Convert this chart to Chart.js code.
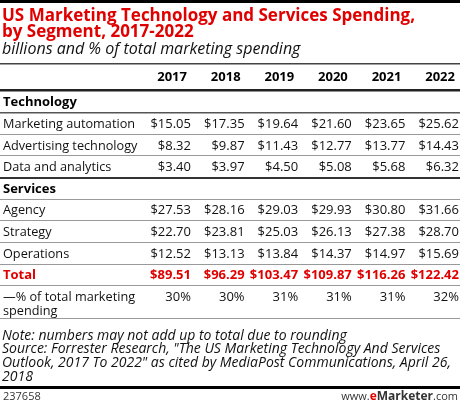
<!DOCTYPE html>
<html><head><meta charset="utf-8">
<script src="https://cdn.jsdelivr.net/npm/chart.js@4.4.0/dist/chart.umd.min.js"></script>
<style>html,body{margin:0;padding:0;background:#fff}#wrap{width:460px;height:403px;position:relative}</style>
</head><body><div id="wrap"><canvas id="c" width="460" height="403"></canvas></div>
<script>
// ---- data ----
const years = [2017, 2018, 2019, 2020, 2021, 2022];
const titleLines = ['US Marketing Technology and Services Spending,', 'by Segment, 2017-2022'];
const subtitle = 'billions and % of total marketing spending';
const noteLines = [
  'Note: numbers may not add up to total due to rounding',
  'Source: Forrester Research, "The US Marketing Technology And Services',
  'Outlook, 2017 To 2022" as cited by MediaPost Communications, April 26,',
  '2018'
];
const chartId = '237658';
const sections = ['Technology', 'Services'];
const techLabels = ['Marketing automation', 'Advertising technology', 'Data and analytics'];
const serviceLabels = ['Agency', 'Strategy', 'Operations'];
const marketingAutomation = [15.05, 17.35, 19.64, 21.60, 23.65, 25.62];
const advertisingTechnology = [8.32, 9.87, 11.43, 12.77, 13.77, 14.43];
const dataAndAnalytics = [3.40, 3.97, 4.50, 5.08, 5.68, 6.32];
const agency = [27.53, 28.16, 29.03, 29.93, 30.80, 31.66];
const strategy = [22.70, 23.81, 25.03, 26.13, 27.38, 28.70];
const operations = [12.52, 13.13, 13.84, 14.37, 14.97, 15.69];
const totalLabel = 'Total';
const total = [89.51, 96.29, 103.47, 109.87, 116.26, 122.42];
const pctLabel = ['\u2014% of total marketing', 'spending'];
const pctOfTotal = [30, 30, 31, 31, 31, 32];

// ---- table structure (row index = y value) ----
const RED = '#e00000';
const FONT = '"Open Sans", sans-serif';
const money = v => '$' + v.toFixed(2);
const pct = v => v + '%';
const rows = [
  { label: sections[0], section: true },
  { label: techLabels[0], values: marketingAutomation, fmt: money },
  { label: techLabels[1], values: advertisingTechnology, fmt: money },
  { label: techLabels[2], values: dataAndAnalytics, fmt: money },
  { label: sections[1], section: true },
  { label: serviceLabels[0], values: agency, fmt: money },
  { label: serviceLabels[1], values: strategy, fmt: money },
  { label: serviceLabels[2], values: operations, fmt: money },
  { label: totalLabel, values: total, fmt: money, total: true },
  { label: pctLabel, values: pctOfTotal, fmt: pct }
];

const datasets = rows.map((r, i) => ({
  label: Array.isArray(r.label) ? r.label.join(' ') : r.label,
  data: r.values ? years.map(yr => ({ x: yr, y: i + 1 })) : [],
  values: r.values || [],
  fmt: r.fmt,
  rowInfo: r,
  pointRadius: 0,
  pointHoverRadius: 0,
  showLine: false
}));
// header row of years
datasets.unshift({
  label: 'years', data: years.map(yr => ({ x: yr, y: -0.16 })), values: years, fmt: v => String(v),
  rowInfo: { header: true }, pointRadius: 0, pointHoverRadius: 0, showLine: false
});

const tablePlugin = {
  id: 'tableText',
  afterDraw(chart) {
    const ctx = chart.ctx;
    const xs = chart.scales.x, ys = chart.scales.y;
    const Y = v => ys.getPixelForValue(v);
    const left = xs.left, right = xs.right;
    const lx = left + 3;
    ctx.save();
    // rules
    const rule = (v, w, c) => { ctx.fillStyle = c; ctx.fillRect(left, Math.round(Y(v) - w / 2), right - left, w); };
    rule(-3.66, 3, '#000');
    rule(-0.76, 1.5, '#444');
    rule(0.45, 2.5, '#222');
    rule(1.5, 1.5, '#555');
    [2.5, 3.5, 5.5, 6.5, 7.5, 8.5, 9.5].forEach(v => rule(v, 1, '#999'));
    rule(4.5, 2, '#333');
    rule(11.04, 1, '#999');
    rule(14.2, 3, '#000');

    ctx.textBaseline = 'alphabetic';
    // title
    ctx.fillStyle = RED;
    ctx.font = 'bold 17px ' + FONT;
    ctx.textAlign = 'left';
    ctx.fillText(titleLines[0], lx - 1, 20.5);
    ctx.fillText(titleLines[1], lx - 1, 37);
    ctx.fillStyle = '#111';
    ctx.font = 'italic 16px ' + FONT;
    ctx.fillText(subtitle, lx - 1, 54);

    const base = v => Y(v) + 4.5;
    // cells from dataset points
    chart.data.datasets.forEach((ds, di) => {
      const meta = chart.getDatasetMeta(di);
      const info = ds.rowInfo;
      // label column
      if (!info.header) {
        const vy = di; // row y value
        ctx.textAlign = 'left';
        if (info.section) { ctx.font = 'bold 13px ' + FONT; ctx.fillStyle = '#000'; }
        else if (info.total) { ctx.font = 'bold 13px ' + FONT; ctx.fillStyle = RED; }
        else { ctx.font = '12.7px ' + FONT; ctx.fillStyle = '#111'; }
        if (Array.isArray(info.label)) {
          info.label.forEach((t, k) => ctx.fillText(t, lx, base(vy) + k * 14));
        } else ctx.fillText(info.label, lx, base(vy));
      }
      meta.data.forEach((pt, k) => {
        const txt = ds.fmt(ds.values[k]);
        ctx.textAlign = 'right';
        if (info.header) { ctx.font = 'bold 13px ' + FONT; ctx.fillStyle = '#000'; ctx.fillText(txt, pt.x - 4, pt.y + 4.5); }
        else if (info.total) { ctx.font = 'bold 13px ' + FONT; ctx.fillStyle = RED; ctx.fillText(txt, pt.x, pt.y + 4.5); }
        else { ctx.font = '13px ' + FONT; ctx.fillStyle = '#111'; ctx.fillText(txt, pt.x, pt.y + 4.5); }
      });
    });

    // notes
    ctx.textAlign = 'left';
    ctx.fillStyle = '#111';
    ctx.font = 'italic 14px ' + FONT;
    noteLines.forEach((t, k) => ctx.fillText(t, lx - 1, 339.5 + k * 13.8));
    // footer
    ctx.font = '11px ' + FONT;
    ctx.fillStyle = '#333';
    ctx.fillText(chartId, lx, 400);
    const parts = [['www.', '11px', '#333'], ['e', 'bold 12px', RED], ['Marketer', 'bold 12px', '#333'], ['.com', '11px', '#333']];
    let wsum = 0;
    parts.forEach(p => { ctx.font = p[1] + ' ' + FONT; wsum += ctx.measureText(p[0]).width; });
    let x = right - 2 - wsum;
    parts.forEach(p => { ctx.font = p[1] + ' ' + FONT; ctx.fillStyle = p[2]; ctx.fillText(p[0], x, 400); x += ctx.measureText(p[0]).width; });
    ctx.restore();
  }
};

new Chart(document.getElementById('c'), {
  type: 'scatter',
  data: { datasets },
  options: {
    responsive: false,
    animation: false,
    devicePixelRatio: 1,
    layout: { padding: 0 },
    plugins: { legend: { display: false }, tooltip: { enabled: false }, title: { display: false } },
    scales: {
      x: { type: 'linear', display: false, min: 2017 - 3.563, max: 2022.019 },
      y: { type: 'linear', display: false, reverse: true, min: -3.722, max: 14.935 }
    }
  },
  plugins: [tablePlugin]
});
</script>
</body></html>
